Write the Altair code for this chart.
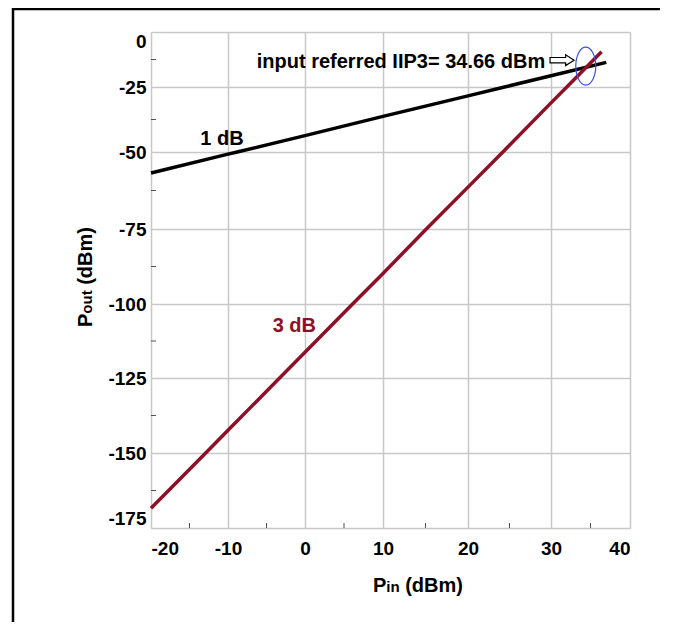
import altair as alt
import pandas as pd

# ---- data ----
pin_1db = [-20, -10, -8.8, 0, 10, 20, 24.4, 30, 37.0]
pout_1db = [-56.8, -50.7, -50, -43.7, -36.3, -28.4, -25, -19.9, -13.8]

pin_3db = [-20, -12.9, -10, -3.3, 0, 6.1, 10, 15.1, 20, 24.2, 30, 32.0, 36.4]
pout_3db = [-168.4, -150, -142.4, -125, -116.3, -100, -89.8, -75, -61.4, -50, -31.1, -25, -9.0]

x_ticks = [-20, -10, 0, 10, 20, 30, 40]
y_ticks = [-175, -150, -125, -100, -75, -50, -25, 0]
x_minor = [-15, -5, 5, 15, 25, 35]
y_minor = [-162.5, -137.5, -112.5, -87.5, -62.5, -37.5, -12.5]

line_labels = ["1 dB", "3 dB"]
line_label_x = [-13.6, -4.2]
line_label_y = [-47.3, -109.6]

iip3 = 34.66
iip3_text = f"input referred IIP3= {iip3} dBm"
iip3_text_pos = [29.3, -16.2]
arrow_pos = [31.4, -12.8]
ellipse_pos = [34.4, -15.5]

# ---- layout / style ----
W, H = 479, 496
X_RANGE = [0, 77, 154, 232, 317, 400, 479]
Y_RANGE = [496, 421, 346, 272, 197, 120, 55, 0]
FONT = "Liberation Sans"
RED = "#8e1027"
GRID = "#c8c8c8"
FRAME = "#505050"
ANN = 20

xs = alt.Scale(domain=x_ticks, range=X_RANGE, nice=False, zero=False)
ys = alt.Scale(domain=y_ticks, range=Y_RANGE, nice=False, zero=False)

x_axis = alt.Axis(values=x_ticks, title=None, grid=True, gridColor=GRID, gridWidth=1.5,
                  ticks=False, tickSize=0, domain=False, labelFont=FONT, labelFontSize=19,
                  labelFontWeight="bold", labelColor="black", labelPadding=11, labelFlush=True,
                  labelExpr="'' + datum.value")
y_axis = alt.Axis(values=y_ticks, title=None, grid=True, gridColor=GRID, gridWidth=1.5,
                  ticks=False, tickSize=0, domain=False, labelFont=FONT, labelFontSize=19,
                  labelFontWeight="bold", labelColor="black", labelPadding=5, labelFlush=True,
                  labelExpr="'' + datum.value")


def X(f):
    return alt.X(f, scale=xs, axis=x_axis, title=None)


def Y(f):
    return alt.Y(f, scale=ys, axis=y_axis, title=None)


df1 = pd.DataFrame({"pin": pin_1db, "pout": pout_1db})
df3 = pd.DataFrame({"pin": pin_3db, "pout": pout_3db})
dfx = pd.DataFrame({"pin": x_minor})
dfy = pd.DataFrame({"pout": y_minor})
dfl = pd.DataFrame({"pin": line_label_x, "pout": line_label_y, "t": line_labels})
dummy = pd.DataFrame({"a": [0]})

line1 = alt.Chart(df1).mark_line(color="black", strokeWidth=3.5).encode(
    x=X("pin:Q"), y=Y("pout:Q"))
line3 = alt.Chart(df3).mark_line(color=RED, strokeWidth=3.5).encode(
    x=X("pin:Q"), y=Y("pout:Q"))

minor_x = alt.Chart(dfx).mark_rule(color=FRAME, strokeWidth=1).encode(
    x=X("pin:Q"), y=alt.value(H), y2=alt.value(H - 5))
minor_y = alt.Chart(dfy).mark_rule(color=FRAME, strokeWidth=1).encode(
    y=Y("pout:Q"), x=alt.value(0), x2=alt.value(5))

lab1 = alt.Chart(dfl.iloc[[0]]).mark_text(font=FONT, fontSize=ANN, fontWeight="bold",
                                          color="black", align="left", baseline="alphabetic").encode(
    x=X("pin:Q"), y=Y("pout:Q"), text="t:N")
lab3 = alt.Chart(dfl.iloc[[1]]).mark_text(font=FONT, fontSize=ANN, fontWeight="bold",
                                          color=RED, align="left", baseline="alphabetic").encode(
    x=X("pin:Q"), y=Y("pout:Q"), text="t:N")

iip3_df = pd.DataFrame({"pin": [iip3_text_pos[0]], "pout": [iip3_text_pos[1]], "t": [iip3_text]})
iip3_lab = alt.Chart(iip3_df).mark_text(font=FONT, fontSize=ANN, fontWeight="bold",
                                        color="black", align="right", baseline="alphabetic").encode(
    x=X("pin:Q"), y=Y("pout:Q"), text="t:N")

ARROW = "M -1 -0.22 L 0.3 -0.22 L 0.3 -0.45 L 1 0 L 0.3 0.45 L 0.3 0.22 L -1 0.22 Z"
a, k = 0.526, 0.5523
ELLIPSE = (f"M 0 -1 C {a*k:.4f} -1 {a} {-k} {a} 0 C {a} {k} {a*k:.4f} 1 0 1 "
           f"C {-a*k:.4f} 1 {-a} {k} {-a} 0 C {-a} {-k} {-a*k:.4f} -1 0 -1 Z")

arrow_df = pd.DataFrame({"pin": [arrow_pos[0]], "pout": [arrow_pos[1]]})
arrow = alt.Chart(arrow_df).mark_point(shape=ARROW, size=576, filled=True, fill="white",
                                       stroke="black", strokeWidth=1.2, opacity=1).encode(
    x=X("pin:Q"), y=Y("pout:Q"))

ell_df = pd.DataFrame({"pin": [ellipse_pos[0]], "pout": [ellipse_pos[1]]})
ellipse = alt.Chart(ell_df).mark_point(shape=ELLIPSE, size=1444, filled=False,
                                       stroke="#3a4fe0", strokeWidth=1.2, opacity=1).encode(
    x=X("pin:Q"), y=Y("pout:Q"))


# ---- axis titles with subscripts ----
def txt(s, x, y, size, angle=0):
    props = dict(text=s, font=FONT, fontSize=size, fontWeight="bold", color="black",
                 align="left", baseline="alphabetic")
    if angle:
        props["angle"] = angle
    return alt.Chart(dummy).mark_text(**props).encode(x=alt.value(x), y=alt.value(y))


xt_x0, xt_y = 222, 560
xtitle = [txt("P", xt_x0, xt_y, 20), txt("in", xt_x0 + 13.3, xt_y, 15),
          txt("(dBm)", xt_x0 + 32.2, xt_y, 20)]
yt_x, yt_y0 = -59.5, 295
ytitle = [txt("P", yt_x, yt_y0, 20, 270), txt("out", yt_x, yt_y0 - 13.3, 15, 270),
          txt("(dBm)", yt_x, yt_y0 - 42.2, 20, 270)]

# ---- outer frame (top and left edges) ----
top_border = alt.Chart(dummy).mark_rule(color="black", strokeWidth=2.5).encode(
    x=alt.value(-138), x2=alt.value(540), y=alt.value(-23))
left_border = alt.Chart(dummy).mark_rule(color="black", strokeWidth=2.5).encode(
    x=alt.value(-138), y=alt.value(-24), y2=alt.value(700))

chart = alt.layer(
    line1, line3, minor_x, minor_y, lab1, lab3, iip3_lab, arrow, ellipse,
    *xtitle, *ytitle, top_border, left_border,
).properties(
    width=W, height=H,
    padding={"left": 143, "top": 24, "right": 30, "bottom": 94},
    autosize=alt.AutoSizeParams(type="none"),
).configure_view(stroke=FRAME, strokeWidth=2).configure(background="white")

chart.save("out.html", embed_options={"renderer": "svg", "actions": False})
